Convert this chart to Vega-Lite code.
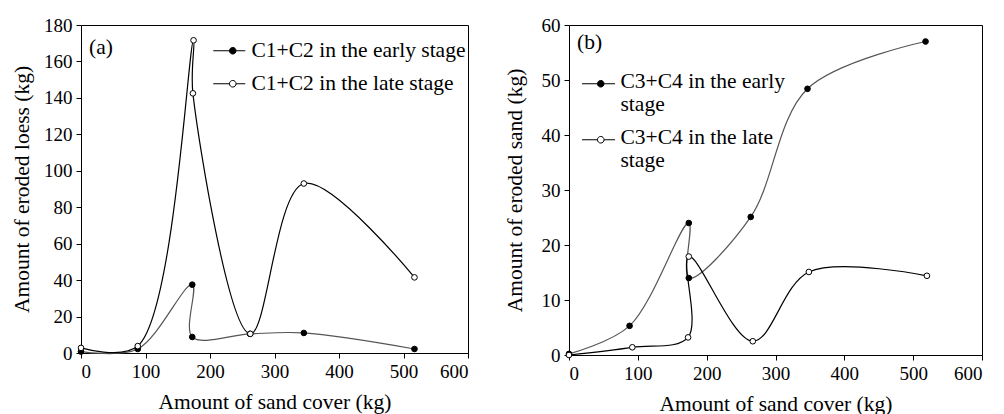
{
  "$schema": "https://vega.github.io/schema/vega-lite/v6.json",
  "background": "white",
  "padding": {"left": 11, "top": 15, "right": 5, "bottom": 0},
  "spacing": 34,
  "resolve": {"scale": {"fill": "independent", "stroke": "independent", "x": "independent", "y": "independent"}, "legend": {"fill": "independent", "stroke": "independent"}},
  "config": {
    "font": "Liberation Serif, serif",
    "view": {"stroke": "black", "strokeWidth": 1},
    "axis": {
      "grid": false, "domainColor": "black", "tickColor": "black", "tickSize": 5,
      "labelColor": "black", "titleColor": "black",
      "labelFont": "Liberation Serif, serif", "titleFont": "Liberation Serif, serif",
      "labelFontSize": 19, "titleFontSize": 21.5, "titleFontWeight": "normal",
      "labelPadding": 4, "titlePadding": 10, "labelOverlap": false
    },
    "legend": {
      "title": null, "padding": 0, "labelFont": "Liberation Serif, serif", "labelFontSize": 21.5,
      "labelColor": "black", "labelLimit": 400,
      "symbolSize": 400, "symbolStrokeColor": "black", "symbolStrokeWidth": 1,
      "rowPadding": 10
    },
    "title": {"font": "Liberation Serif, serif", "fontSize": 21.5, "fontWeight": "normal", "color": "black"}
  },
  "datasets": {
    "a": [
      {"series": "C1+C2 in the early stage", "i": 0, "x": 0, "y": 0.8},
      {"series": "C1+C2 in the early stage", "i": 1, "x": 88, "y": 2.2},
      {"series": "C1+C2 in the early stage", "i": 2, "x": 172.5, "y": 37.5},
      {"series": "C1+C2 in the early stage", "i": 3, "x": 172.5, "y": 8.8},
      {"series": "C1+C2 in the early stage", "i": 4, "x": 262, "y": 10.5},
      {"series": "C1+C2 in the early stage", "i": 5, "x": 345.5, "y": 11},
      {"series": "C1+C2 in the early stage", "i": 6, "x": 517, "y": 2.2},
      {"series": "C1+C2 in the late stage", "i": 0, "x": 0, "y": 2.8},
      {"series": "C1+C2 in the late stage", "i": 1, "x": 88, "y": 3.8},
      {"series": "C1+C2 in the late stage", "i": 2, "x": 174.5, "y": 171.6},
      {"series": "C1+C2 in the late stage", "i": 3, "x": 173.5, "y": 142.5},
      {"series": "C1+C2 in the late stage", "i": 4, "x": 262.5, "y": 10.5},
      {"series": "C1+C2 in the late stage", "i": 5, "x": 345.5, "y": 93},
      {"series": "C1+C2 in the late stage", "i": 6, "x": 517, "y": 41.5}
    ],
    "b": [
      {"series": "C3+C4 in the early stage", "i": 0, "x": 0, "y": 0.2},
      {"series": "C3+C4 in the early stage", "i": 1, "x": 88, "y": 5.3},
      {"series": "C3+C4 in the early stage", "i": 2, "x": 174, "y": 24.0},
      {"series": "C3+C4 in the early stage", "i": 3, "x": 174, "y": 14.0},
      {"series": "C3+C4 in the early stage", "i": 4, "x": 264, "y": 25.1},
      {"series": "C3+C4 in the early stage", "i": 5, "x": 346.5, "y": 48.4},
      {"series": "C3+C4 in the early stage", "i": 6, "x": 518, "y": 57.0},
      {"series": "C3+C4 in the late stage", "i": 0, "x": 0, "y": 0},
      {"series": "C3+C4 in the late stage", "i": 1, "x": 92, "y": 1.4},
      {"series": "C3+C4 in the late stage", "i": 2, "x": 173, "y": 3.2},
      {"series": "C3+C4 in the late stage", "i": 3, "x": 174, "y": 17.9},
      {"series": "C3+C4 in the late stage", "i": 4, "x": 267, "y": 2.5},
      {"series": "C3+C4 in the late stage", "i": 5, "x": 348.5, "y": 15.1},
      {"series": "C3+C4 in the late stage", "i": 6, "x": 520, "y": 14.4}
    ]
  },
  "hconcat": [
    {
      "width": 387, "height": 328,
      "title": {"text": "(a)", "anchor": "start", "frame": "group", "orient": "top", "offset": -59, "dx": 8, "baseline": "alphabetic"},
      "data": {"name": "a"},
      "encoding": {
        "x": {"field": "x", "type": "quantitative", "scale": {"domain": [0, 600], "nice": false}, "axis": {"values": [0, 100, 200, 300, 400, 500, 600], "title": "Amount of sand cover (kg)"}},
        "y": {"field": "y", "type": "quantitative", "scale": {"domain": [0, 180], "nice": false}, "axis": {"values": [0, 20, 40, 60, 80, 100, 120, 140, 160, 180], "labelPadding": 4, "title": "Amount of eroded loess (kg)"}}
      },
      "layer": [
        {
          "mark": {"type": "line", "interpolate": "catmull-rom", "strokeWidth": 1.2},
          "encoding": {
            "order": {"field": "i", "type": "quantitative"},
            "stroke": {"field": "series", "type": "nominal", "scale": {"range": ["#555555", "#000000"]}, "legend": null}
          }
        },
        {
          "mark": {"type": "point", "filled": true, "size": 32, "stroke": "black", "strokeWidth": 1, "opacity": 1},
          "encoding": {
            "fill": {"field": "series", "type": "nominal", "scale": {"range": ["black", "white"]},
              "legend": {"orient": "none", "legendX": 141, "legendY": 15, "labelOffset": 8,
                "symbolType": "M-1.95,0L-0.33,0M0.33,0L1.25,0M0.33,0A0.33,0.33,0,1,1,-0.33,0A0.33,0.33,0,1,1,0.33,0"}}
          }
        }
      ]
    },
    {
      "width": 413, "height": 330,
      "title": {"text": "(b)", "anchor": "start", "frame": "group", "orient": "top", "offset": -54, "dx": 8, "baseline": "alphabetic"},
      "data": {"name": "b"},
      "encoding": {
        "x": {"field": "x", "type": "quantitative", "scale": {"domain": [0, 600], "nice": false}, "axis": {"values": [0, 100, 200, 300, 400, 500, 600], "title": "Amount of sand cover (kg)"}},
        "y": {"field": "y", "type": "quantitative", "scale": {"domain": [0, 60], "nice": false}, "axis": {"values": [0, 10, 20, 30, 40, 50, 60], "titlePadding": 15, "title": "Amount of eroded sand (kg)"}}
      },
      "layer": [
        {
          "mark": {"type": "line", "interpolate": "catmull-rom", "strokeWidth": 1.2},
          "encoding": {
            "order": {"field": "i", "type": "quantitative"},
            "stroke": {"field": "series", "type": "nominal", "scale": {"range": ["#555555", "#000000"]}, "legend": null}
          }
        },
        {
          "mark": {"type": "point", "filled": true, "size": 32, "stroke": "black", "strokeWidth": 1, "opacity": 1},
          "encoding": {
            "fill": {"field": "series", "type": "nominal", "scale": {"range": ["black", "white"]},
              "legend": {"orient": "none", "legendX": 21, "legendY": 35, "rowPadding": -21, "labelOffset": 9,
                "symbolType": "M-1.87,1.3L-0.33,1.3M0.33,1.3L1.43,1.3M0.33,1.3A0.33,0.33,0,1,1,-0.33,1.3A0.33,0.33,0,1,1,0.33,1.3",
                "labelExpr": "[replace(datum.label, ' stage', ''), 'stage']",
                "labelBaseline": "top"}}
          }
        }
      ]
    }
  ]
}
